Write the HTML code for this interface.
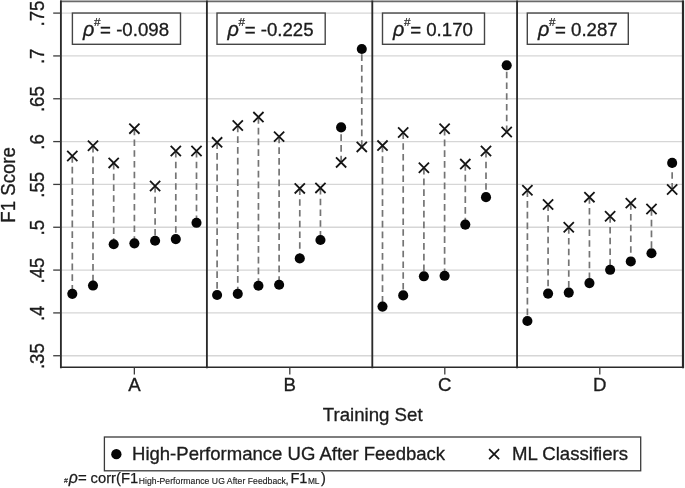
<!DOCTYPE html>
<html><head><meta charset="utf-8"><title>F1 Score by Training Set</title>
<style>html,body{margin:0;padding:0;background:#fff}body{width:685px;height:488px;overflow:hidden;font-family:"Liberation Sans",sans-serif}svg{display:block}</style>
</head><body>
<svg width="685" height="488" viewBox="0 0 685 488" font-family="Liberation Sans, sans-serif" fill="#1c1c1c" style="filter:blur(0.55px)"><g stroke="#1c1c1c" stroke-width="0" id="all">
<rect width="685" height="488" fill="#fff"/>
<line x1="61" x2="683" y1="355.74" y2="355.74" stroke="#d6d6d6" stroke-width="1.3"/>
<line x1="61" x2="683" y1="312.91" y2="312.91" stroke="#d6d6d6" stroke-width="1.3"/>
<line x1="61" x2="683" y1="270.08" y2="270.08" stroke="#d6d6d6" stroke-width="1.3"/>
<line x1="61" x2="683" y1="227.25" y2="227.25" stroke="#d6d6d6" stroke-width="1.3"/>
<line x1="61" x2="683" y1="184.42" y2="184.42" stroke="#d6d6d6" stroke-width="1.3"/>
<line x1="61" x2="683" y1="141.59" y2="141.59" stroke="#d6d6d6" stroke-width="1.3"/>
<line x1="61" x2="683" y1="98.76" y2="98.76" stroke="#d6d6d6" stroke-width="1.3"/>
<line x1="61" x2="683" y1="55.93" y2="55.93" stroke="#d6d6d6" stroke-width="1.3"/>
<line x1="61" x2="683" y1="13.10" y2="13.10" stroke="#d6d6d6" stroke-width="1.3"/>
<line x1="72.30" x2="72.30" y1="156.05" y2="293.87" stroke="#747474" stroke-width="1.7" stroke-dasharray="6.6 4.15"/>
<line x1="93.00" x2="93.00" y1="145.78" y2="285.56" stroke="#747474" stroke-width="1.7" stroke-dasharray="6.6 4.15"/>
<line x1="113.70" x2="113.70" y1="162.90" y2="244.22" stroke="#747474" stroke-width="1.7" stroke-dasharray="6.6 4.15"/>
<line x1="134.40" x2="134.40" y1="128.66" y2="243.36" stroke="#747474" stroke-width="1.7" stroke-dasharray="6.6 4.15"/>
<line x1="155.10" x2="155.10" y1="186.01" y2="240.80" stroke="#747474" stroke-width="1.7" stroke-dasharray="6.6 4.15"/>
<line x1="175.80" x2="175.80" y1="150.92" y2="239.08" stroke="#747474" stroke-width="1.7" stroke-dasharray="6.6 4.15"/>
<line x1="196.50" x2="196.50" y1="150.92" y2="222.82" stroke="#747474" stroke-width="1.7" stroke-dasharray="6.6 4.15"/>
<line x1="217.10" x2="217.10" y1="142.36" y2="294.98" stroke="#747474" stroke-width="1.7" stroke-dasharray="6.6 4.15"/>
<line x1="237.77" x2="237.77" y1="125.58" y2="293.87" stroke="#747474" stroke-width="1.7" stroke-dasharray="6.6 4.15"/>
<line x1="258.44" x2="258.44" y1="117.10" y2="285.74" stroke="#747474" stroke-width="1.7" stroke-dasharray="6.6 4.15"/>
<line x1="279.11" x2="279.11" y1="136.62" y2="284.71" stroke="#747474" stroke-width="1.7" stroke-dasharray="6.6 4.15"/>
<line x1="299.78" x2="299.78" y1="188.41" y2="258.43" stroke="#747474" stroke-width="1.7" stroke-dasharray="6.6 4.15"/>
<line x1="320.45" x2="320.45" y1="187.90" y2="240.03" stroke="#747474" stroke-width="1.7" stroke-dasharray="6.6 4.15"/>
<line x1="341.12" x2="341.12" y1="162.39" y2="127.38" stroke="#747474" stroke-width="1.7" stroke-dasharray="6.6 4.15"/>
<line x1="361.79" x2="361.79" y1="146.89" y2="49.05" stroke="#747474" stroke-width="1.7" stroke-dasharray="6.6 4.15"/>
<line x1="382.50" x2="382.50" y1="145.61" y2="306.62" stroke="#747474" stroke-width="1.7" stroke-dasharray="6.6 4.15"/>
<line x1="403.20" x2="403.20" y1="132.51" y2="295.41" stroke="#747474" stroke-width="1.7" stroke-dasharray="6.6 4.15"/>
<line x1="423.90" x2="423.90" y1="167.78" y2="276.32" stroke="#747474" stroke-width="1.7" stroke-dasharray="6.6 4.15"/>
<line x1="444.60" x2="444.60" y1="128.83" y2="275.81" stroke="#747474" stroke-width="1.7" stroke-dasharray="6.6 4.15"/>
<line x1="465.30" x2="465.30" y1="164.10" y2="224.62" stroke="#747474" stroke-width="1.7" stroke-dasharray="6.6 4.15"/>
<line x1="486.00" x2="486.00" y1="151.00" y2="197.14" stroke="#747474" stroke-width="1.7" stroke-dasharray="6.6 4.15"/>
<line x1="506.70" x2="506.70" y1="132.08" y2="65.32" stroke="#747474" stroke-width="1.7" stroke-dasharray="6.6 4.15"/>
<line x1="527.40" x2="527.40" y1="190.29" y2="321.00" stroke="#747474" stroke-width="1.7" stroke-dasharray="6.6 4.15"/>
<line x1="548.08" x2="548.08" y1="204.42" y2="293.61" stroke="#747474" stroke-width="1.7" stroke-dasharray="6.6 4.15"/>
<line x1="568.76" x2="568.76" y1="227.19" y2="292.58" stroke="#747474" stroke-width="1.7" stroke-dasharray="6.6 4.15"/>
<line x1="589.44" x2="589.44" y1="197.14" y2="283.08" stroke="#747474" stroke-width="1.7" stroke-dasharray="6.6 4.15"/>
<line x1="610.12" x2="610.12" y1="216.23" y2="269.81" stroke="#747474" stroke-width="1.7" stroke-dasharray="6.6 4.15"/>
<line x1="630.80" x2="630.80" y1="203.13" y2="261.43" stroke="#747474" stroke-width="1.7" stroke-dasharray="6.6 4.15"/>
<line x1="651.48" x2="651.48" y1="209.04" y2="253.21" stroke="#747474" stroke-width="1.7" stroke-dasharray="6.6 4.15"/>
<line x1="672.16" x2="672.16" y1="189.52" y2="162.90" stroke="#747474" stroke-width="1.7" stroke-dasharray="6.6 4.15"/>
<path d="M67.20 150.95L77.40 161.15M67.20 161.15L77.40 150.95" stroke="#151515" stroke-width="1.8" fill="none"/>
<circle cx="72.30" cy="293.87" r="5.05" fill="#050505"/>
<path d="M87.90 140.68L98.10 150.88M87.90 150.88L98.10 140.68" stroke="#151515" stroke-width="1.8" fill="none"/>
<circle cx="93.00" cy="285.56" r="5.05" fill="#050505"/>
<path d="M108.60 157.80L118.80 168.00M108.60 168.00L118.80 157.80" stroke="#151515" stroke-width="1.8" fill="none"/>
<circle cx="113.70" cy="244.22" r="5.05" fill="#050505"/>
<path d="M129.30 123.56L139.50 133.76M129.30 133.76L139.50 123.56" stroke="#151515" stroke-width="1.8" fill="none"/>
<circle cx="134.40" cy="243.36" r="5.05" fill="#050505"/>
<path d="M150.00 180.91L160.20 191.11M150.00 191.11L160.20 180.91" stroke="#151515" stroke-width="1.8" fill="none"/>
<circle cx="155.10" cy="240.80" r="5.05" fill="#050505"/>
<path d="M170.70 145.82L180.90 156.02M170.70 156.02L180.90 145.82" stroke="#151515" stroke-width="1.8" fill="none"/>
<circle cx="175.80" cy="239.08" r="5.05" fill="#050505"/>
<path d="M191.40 145.82L201.60 156.02M191.40 156.02L201.60 145.82" stroke="#151515" stroke-width="1.8" fill="none"/>
<circle cx="196.50" cy="222.82" r="5.05" fill="#050505"/>
<path d="M212.00 137.26L222.20 147.46M212.00 147.46L222.20 137.26" stroke="#151515" stroke-width="1.8" fill="none"/>
<circle cx="217.10" cy="294.98" r="5.05" fill="#050505"/>
<path d="M232.67 120.48L242.87 130.68M232.67 130.68L242.87 120.48" stroke="#151515" stroke-width="1.8" fill="none"/>
<circle cx="237.77" cy="293.87" r="5.05" fill="#050505"/>
<path d="M253.34 112.00L263.54 122.20M253.34 122.20L263.54 112.00" stroke="#151515" stroke-width="1.8" fill="none"/>
<circle cx="258.44" cy="285.74" r="5.05" fill="#050505"/>
<path d="M274.01 131.52L284.21 141.72M274.01 141.72L284.21 131.52" stroke="#151515" stroke-width="1.8" fill="none"/>
<circle cx="279.11" cy="284.71" r="5.05" fill="#050505"/>
<path d="M294.68 183.31L304.88 193.51M294.68 193.51L304.88 183.31" stroke="#151515" stroke-width="1.8" fill="none"/>
<circle cx="299.78" cy="258.43" r="5.05" fill="#050505"/>
<path d="M315.35 182.80L325.55 193.00M315.35 193.00L325.55 182.80" stroke="#151515" stroke-width="1.8" fill="none"/>
<circle cx="320.45" cy="240.03" r="5.05" fill="#050505"/>
<path d="M336.02 157.29L346.22 167.49M336.02 167.49L346.22 157.29" stroke="#151515" stroke-width="1.8" fill="none"/>
<circle cx="341.12" cy="127.38" r="5.05" fill="#050505"/>
<path d="M356.69 141.79L366.89 151.99M356.69 151.99L366.89 141.79" stroke="#151515" stroke-width="1.8" fill="none"/>
<circle cx="361.79" cy="49.05" r="5.05" fill="#050505"/>
<path d="M377.40 140.51L387.60 150.71M377.40 150.71L387.60 140.51" stroke="#151515" stroke-width="1.8" fill="none"/>
<circle cx="382.50" cy="306.62" r="5.05" fill="#050505"/>
<path d="M398.10 127.41L408.30 137.61M398.10 137.61L408.30 127.41" stroke="#151515" stroke-width="1.8" fill="none"/>
<circle cx="403.20" cy="295.41" r="5.05" fill="#050505"/>
<path d="M418.80 162.68L429.00 172.88M418.80 172.88L429.00 162.68" stroke="#151515" stroke-width="1.8" fill="none"/>
<circle cx="423.90" cy="276.32" r="5.05" fill="#050505"/>
<path d="M439.50 123.73L449.70 133.93M439.50 133.93L449.70 123.73" stroke="#151515" stroke-width="1.8" fill="none"/>
<circle cx="444.60" cy="275.81" r="5.05" fill="#050505"/>
<path d="M460.20 159.00L470.40 169.20M460.20 169.20L470.40 159.00" stroke="#151515" stroke-width="1.8" fill="none"/>
<circle cx="465.30" cy="224.62" r="5.05" fill="#050505"/>
<path d="M480.90 145.90L491.10 156.10M480.90 156.10L491.10 145.90" stroke="#151515" stroke-width="1.8" fill="none"/>
<circle cx="486.00" cy="197.14" r="5.05" fill="#050505"/>
<path d="M501.60 126.98L511.80 137.18M501.60 137.18L511.80 126.98" stroke="#151515" stroke-width="1.8" fill="none"/>
<circle cx="506.70" cy="65.32" r="5.05" fill="#050505"/>
<path d="M522.30 185.19L532.50 195.39M522.30 195.39L532.50 185.19" stroke="#151515" stroke-width="1.8" fill="none"/>
<circle cx="527.40" cy="321.00" r="5.05" fill="#050505"/>
<path d="M542.98 199.32L553.18 209.52M542.98 209.52L553.18 199.32" stroke="#151515" stroke-width="1.8" fill="none"/>
<circle cx="548.08" cy="293.61" r="5.05" fill="#050505"/>
<path d="M563.66 222.09L573.86 232.29M563.66 232.29L573.86 222.09" stroke="#151515" stroke-width="1.8" fill="none"/>
<circle cx="568.76" cy="292.58" r="5.05" fill="#050505"/>
<path d="M584.34 192.04L594.54 202.24M584.34 202.24L594.54 192.04" stroke="#151515" stroke-width="1.8" fill="none"/>
<circle cx="589.44" cy="283.08" r="5.05" fill="#050505"/>
<path d="M605.02 211.13L615.22 221.33M605.02 221.33L615.22 211.13" stroke="#151515" stroke-width="1.8" fill="none"/>
<circle cx="610.12" cy="269.81" r="5.05" fill="#050505"/>
<path d="M625.70 198.03L635.90 208.23M625.70 208.23L635.90 198.03" stroke="#151515" stroke-width="1.8" fill="none"/>
<circle cx="630.80" cy="261.43" r="5.05" fill="#050505"/>
<path d="M646.38 203.94L656.58 214.14M646.38 214.14L656.58 203.94" stroke="#151515" stroke-width="1.8" fill="none"/>
<circle cx="651.48" cy="253.21" r="5.05" fill="#050505"/>
<path d="M667.06 184.42L677.26 194.62M667.06 194.62L677.26 184.42" stroke="#151515" stroke-width="1.8" fill="none"/>
<circle cx="672.16" cy="162.90" r="5.05" fill="#050505"/>
<line x1="60" x2="684" y1="1.35" y2="1.35" stroke="#6a6a6a" stroke-width="1.7"/>
<line x1="60.1" x2="684" y1="367.25" y2="367.25" stroke="#2a2a2a" stroke-width="1.7"/>
<line x1="60.90" x2="60.90" y1="0.5" y2="368.15" stroke="#2a2a2a" stroke-width="1.85"/>
<line x1="206.90" x2="206.90" y1="0.5" y2="368.15" stroke="#2a2a2a" stroke-width="1.85"/>
<line x1="372.30" x2="372.30" y1="0.5" y2="368.15" stroke="#2a2a2a" stroke-width="1.85"/>
<line x1="517.05" x2="517.05" y1="0.5" y2="368.15" stroke="#2a2a2a" stroke-width="1.85"/>
<line x1="683.00" x2="683.00" y1="0.5" y2="368.15" stroke="#2a2a2a" stroke-width="2.2"/>
<line x1="53.2" x2="60.5" y1="355.74" y2="355.74" stroke="#3c3c3c" stroke-width="1.3"/>
<text stroke-width="0.32" id="yt0" transform="translate(44.30,356.14) rotate(-90) scale(1,1.07)" text-anchor="middle" font-size="18.65">.35</text>
<line x1="53.2" x2="60.5" y1="312.91" y2="312.91" stroke="#3c3c3c" stroke-width="1.3"/>
<text stroke-width="0.32" id="yt1" transform="translate(44.30,313.31) rotate(-90) scale(1,1.07)" text-anchor="middle" font-size="18.65">.4</text>
<line x1="53.2" x2="60.5" y1="270.08" y2="270.08" stroke="#3c3c3c" stroke-width="1.3"/>
<text stroke-width="0.32" id="yt2" transform="translate(44.30,270.48) rotate(-90) scale(1,1.07)" text-anchor="middle" font-size="18.65">.45</text>
<line x1="53.2" x2="60.5" y1="227.25" y2="227.25" stroke="#3c3c3c" stroke-width="1.3"/>
<text stroke-width="0.32" id="yt3" transform="translate(44.30,227.65) rotate(-90) scale(1,1.07)" text-anchor="middle" font-size="18.65">.5</text>
<line x1="53.2" x2="60.5" y1="184.42" y2="184.42" stroke="#3c3c3c" stroke-width="1.3"/>
<text stroke-width="0.32" id="yt4" transform="translate(44.30,184.82) rotate(-90) scale(1,1.07)" text-anchor="middle" font-size="18.65">.55</text>
<line x1="53.2" x2="60.5" y1="141.59" y2="141.59" stroke="#3c3c3c" stroke-width="1.3"/>
<text stroke-width="0.32" id="yt5" transform="translate(44.30,141.99) rotate(-90) scale(1,1.07)" text-anchor="middle" font-size="18.65">.6</text>
<line x1="53.2" x2="60.5" y1="98.76" y2="98.76" stroke="#3c3c3c" stroke-width="1.3"/>
<text stroke-width="0.32" id="yt6" transform="translate(44.30,99.16) rotate(-90) scale(1,1.07)" text-anchor="middle" font-size="18.65">.65</text>
<line x1="53.2" x2="60.5" y1="55.93" y2="55.93" stroke="#3c3c3c" stroke-width="1.3"/>
<text stroke-width="0.32" id="yt7" transform="translate(44.30,56.33) rotate(-90) scale(1,1.07)" text-anchor="middle" font-size="18.65">.7</text>
<line x1="53.2" x2="60.5" y1="13.10" y2="13.10" stroke="#3c3c3c" stroke-width="1.3"/>
<text stroke-width="0.32" id="yt8" transform="translate(44.30,13.50) rotate(-90) scale(1,1.07)" text-anchor="middle" font-size="18.65">.75</text>
<text stroke-width="0.32" id="ylab" transform="translate(15.20,184.90) rotate(-90) scale(1,1.07)" text-anchor="middle" font-size="18.65">F1 Score</text>
<line x1="134.35" x2="134.35" y1="367.5" y2="374.6" stroke="#3c3c3c" stroke-width="1.3"/>
<text stroke-width="0.32" id="xlA" x="134.35" y="391.20" text-anchor="middle" font-size="18.65">A</text>
<line x1="289.80" x2="289.80" y1="367.5" y2="374.6" stroke="#3c3c3c" stroke-width="1.3"/>
<text stroke-width="0.32" id="xlB" x="289.80" y="391.20" text-anchor="middle" font-size="18.65">B</text>
<line x1="444.80" x2="444.80" y1="367.5" y2="374.6" stroke="#3c3c3c" stroke-width="1.3"/>
<text stroke-width="0.32" id="xlC" x="444.80" y="391.20" text-anchor="middle" font-size="18.65">C</text>
<line x1="599.80" x2="599.80" y1="367.5" y2="374.6" stroke="#3c3c3c" stroke-width="1.3"/>
<text stroke-width="0.32" id="xlD" x="599.80" y="391.20" text-anchor="middle" font-size="18.65">D</text>
<text stroke-width="0.32" id="xlab" x="372.70" y="421.30" text-anchor="middle" font-size="18.65">Training Set</text>
<rect x="72.40" y="13.05" width="108.10" height="31.25" fill="#fff" stroke="#454545" stroke-width="1.4"/>
<text stroke-width="0.34" id="r0a" x="83.00" y="35.80" text-anchor="start" font-size="19.8" font-style="italic">ρ</text>
<text stroke-width="0.20" id="r0b" x="94.00" y="25.60" text-anchor="start" font-size="11.7">#</text>
<text stroke-width="0.32" id="r0c" x="100.10" y="35.80" text-anchor="start" font-size="18.65">= -0.098</text>
<rect x="217.00" y="13.05" width="108.20" height="31.25" fill="#fff" stroke="#454545" stroke-width="1.4"/>
<text stroke-width="0.34" id="r1a" x="227.60" y="35.80" text-anchor="start" font-size="19.8" font-style="italic">ρ</text>
<text stroke-width="0.20" id="r1b" x="238.60" y="25.60" text-anchor="start" font-size="11.7">#</text>
<text stroke-width="0.32" id="r1c" x="244.70" y="35.80" text-anchor="start" font-size="18.65">= -0.225</text>
<rect x="382.50" y="13.05" width="102.00" height="31.25" fill="#fff" stroke="#454545" stroke-width="1.4"/>
<text stroke-width="0.34" id="r2a" x="393.10" y="35.80" text-anchor="start" font-size="19.8" font-style="italic">ρ</text>
<text stroke-width="0.20" id="r2b" x="404.10" y="25.60" text-anchor="start" font-size="11.7">#</text>
<text stroke-width="0.32" id="r2c" x="410.20" y="35.80" text-anchor="start" font-size="18.65">= 0.170</text>
<rect x="527.30" y="13.05" width="101.00" height="31.25" fill="#fff" stroke="#454545" stroke-width="1.4"/>
<text stroke-width="0.34" id="r3a" x="537.90" y="35.80" text-anchor="start" font-size="19.8" font-style="italic">ρ</text>
<text stroke-width="0.20" id="r3b" x="548.90" y="25.60" text-anchor="start" font-size="11.7">#</text>
<text stroke-width="0.32" id="r3c" x="555.00" y="35.80" text-anchor="start" font-size="18.65">= 0.287</text>
<rect x="104.4" y="437" width="536.3" height="33.8" fill="#fff" stroke="#3a3a3a" stroke-width="1.3"/>
<circle cx="116.35" cy="454.2" r="5.15" fill="#050505"/>
<text stroke-width="0.32" id="lg1" x="132.00" y="460.10" text-anchor="start" font-size="18.55">High-Performance UG After Feedback</text>
<path d="M489.10 449.20L499.10 459.20M489.10 459.20L499.10 449.20" stroke="#151515" stroke-width="1.7" fill="none"/>
<text stroke-width="0.32" id="lg2" x="512.00" y="460.10" text-anchor="start" font-size="18.6">ML Classifiers</text>
<text stroke-width="0.15" id="f1" x="64.00" y="483.30" text-anchor="start" font-size="7">#</text>
<text stroke-width="0.27" id="f2" x="68.80" y="482.80" text-anchor="start" font-size="15.8" font-style="italic">ρ</text>
<text stroke-width="0.26" id="f3" x="78.10" y="482.80" text-anchor="start" font-size="15">=</text>
<text stroke-width="0.25" id="f4" x="90.60" y="482.80" text-anchor="start" font-size="14.75">corr(F1</text>
<text stroke-width="0.15" id="f5" x="138.70" y="484.40" text-anchor="start" font-size="8.6" textLength="147.2" lengthAdjust="spacing">High-Performance UG After Feedback</text>
<text stroke-width="0.19" id="f6" x="285.60" y="484.40" text-anchor="start" font-size="11">,</text>
<text stroke-width="0.25" id="f7" x="290.40" y="482.80" text-anchor="start" font-size="14.6">F1</text>
<text stroke-width="0.15" id="f8" x="307.90" y="484.40" text-anchor="start" font-size="8.4">ML</text>
<text stroke-width="0.25" id="f9" x="321.10" y="482.80" text-anchor="start" font-size="14.6">)</text>
</g></svg>
</body></html>
